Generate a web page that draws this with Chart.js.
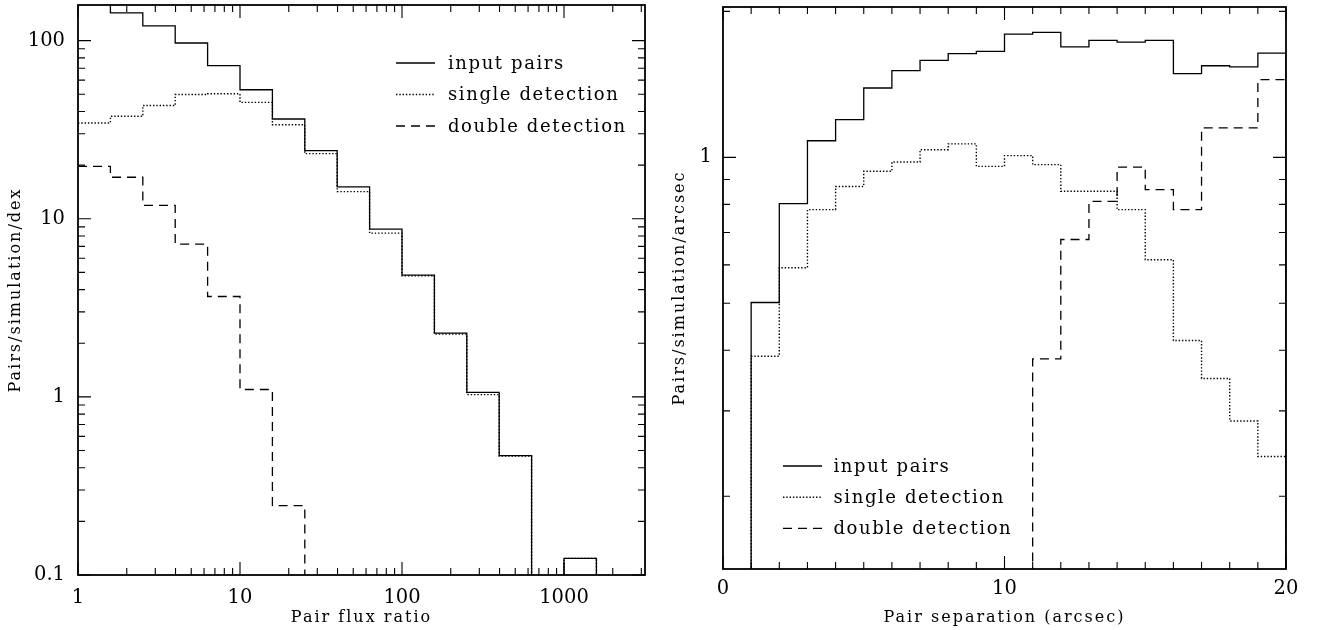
<!DOCTYPE html>
<html><head><meta charset="utf-8">
<script src="https://cdn.jsdelivr.net/npm/chart.js@4.4.1/dist/chart.umd.min.js"></script>
<style>
html,body{margin:0;padding:0;background:#fff;}
#wrap{position:relative;width:1319px;height:630px;background:#fff;}
.box{position:absolute;top:0;height:630px;}
#b1{left:0;width:660px;}
#b2{left:660px;width:659px;}
</style></head><body>
<div id="wrap">
  <div class="box" id="b1"><canvas id="c1"></canvas></div>
  <div class="box" id="b2"><canvas id="c2"></canvas></div>
</div>
<script>
// ---------- data ----------
const seriesLabels = ['input pairs', 'single detection', 'double detection'];

// left panel: bins of 0.2 dex in pair flux ratio
const fluxEdges  = [1, 1.585, 2.512, 3.981, 6.310, 10, 15.85, 25.12, 39.81, 63.10, 100, 158.5, 251.2, 398.1, 631.0, 1000, 1585];
const fluxInput  = [170, 143, 121, 97, 72.4, 53, 36.3, 24.1, 15.1, 8.75, 4.83, 2.28, 1.06, 0.468, 0, 0.124];
const fluxSingle = [34.5, 37.6, 43.2, 49.8, 50.3, 45.0, 33.7, 23.2, 14.2, 8.3, 4.78, 2.25, 1.03, 0.465, 0, 0.124];
const fluxDouble = [19.7, 17.1, 11.9, 7.2, 3.66, 1.10, 0.245, 0, 0, 0, 0, 0, 0, 0, 0, 0];

// right panel: bins of 1 arcsec in pair separation
const sepEdges  = [0, 1, 2, 3, 4, 5, 6, 7, 8, 9, 10, 11, 12, 13, 14, 15, 16, 17, 18, 19, 20];
const sepInput  = [0, 0.502, 0.803, 1.082, 1.196, 1.39, 1.51, 1.585, 1.636, 1.654, 1.796, 1.81, 1.689, 1.743, 1.729, 1.743, 1.488, 1.545, 1.536, 1.641];
const sepSingle = [0, 0.389, 0.592, 0.78, 0.871, 0.936, 0.978, 1.037, 1.066, 0.958, 1.008, 0.966, 0.851, 0.851, 0.78, 0.615, 0.419, 0.35, 0.286, 0.2416];
const sepDouble = [0, 0, 0, 0, 0, 0, 0, 0, 0, 0, 0, 0.384, 0.677, 0.811, 0.955, 0.858, 0.78, 1.15, 1.15, 1.446];

// axes
const fluxRange = [1, 3162.3];
const countRange = [0.1, 158.5];
const sepRange = [0, 20];
const sepCountRange = [0.1416, 2.042];
const fluxTickLabels = ['1', '10', '100', '1000'];
const countTickLabels = ['0.1', '1', '10', '100'];
const sepTickLabels = ['0', '10', '20'];
const sepCountTickLabels = ['1'];

// ---------- helpers ----------
const FONT = '"DejaVu Serif", "Liberation Serif", serif';
const FLOOR = 1e-4;

function logTicks(range) {
  const out = [];
  for (let e = -3; e <= 5; e++) {
    for (let m = 1; m <= 9; m++) {
      const v = +(m * Math.pow(10, e)).toPrecision(6);
      if (v >= range[0] * 0.9999 && v <= range[1] * 1.0001) out.push(v);
    }
  }
  return out;
}
function linTicks(range) {
  const out = [];
  for (let v = range[0]; v <= range[1]; v++) out.push(v);
  return out;
}

function hist(edges, vals, label, dash, width) {
  const pts = vals.map((v, i) => ({x: edges[i], y: v > 0 ? v : FLOOR}));
  pts.push({x: edges[vals.length], y: FLOOR});
  return {
    label, data: pts, stepped: 'before',
    borderColor: '#000', borderWidth: width, borderDash: dash,
    borderCapStyle: 'butt', pointRadius: 0, fill: false, tension: 0
  };
}

function axis(type, range, labels, tickVals, title, labelPad, titlePad, isX, size) {
  return {
    type, min: range[0], max: range[1],
    grid: {display: false, drawTicks: false},
    border: {display: false},
    ticks: {
      color: '#000', font: {family: FONT, size: 19.5}, padding: labelPad,
      autoSkip: false, maxRotation: 0, minRotation: 0,
      callback: (v) => labels.includes(String(v)) ? String(v) : ''
    },
    title: {display: true, text: title, color: '#000', font: {family: FONT, size: 16}, padding: titlePad},
    afterBuildTicks: (s) => { s.ticks = tickVals.map(v => ({value: v})); },
    afterFit: (s) => {
      if (isX) s.height = size; else s.width = size;
      s.paddingTop = 0; s.paddingBottom = 0; s.paddingLeft = 0; s.paddingRight = 0;
    }
  };
}

// ---------- plugins ----------
const titleSpacing = {
  id: 'titleSpacing',
  beforeDraw(chart) {
    Object.values(chart.scales).forEach(s => {
      if (s._lsPatched) return;
      const orig = s.drawTitle.bind(s);
      s.drawTitle = function () {
        const c = this.ctx; c.save(); c.letterSpacing = '2px'; orig(); c.restore();
      };
      s._lsPatched = true;
    });
  }
};

const frameTicks = {
  id: 'frameTicks',
  afterDatasetsDraw(chart) {
    const {ctx, chartArea: a} = chart;
    const xs = chart.scales.x, ys = chart.scales.y;
    ctx.save();
    ctx.strokeStyle = '#000';
    ctx.setLineDash([]);
    ctx.lineWidth = 1.1;
    ctx.beginPath();
    xs.ticks.forEach(t => {
      const p = xs.getPixelForValue(t.value);
      const L = t.label ? 13 : 7;
      ctx.moveTo(p, a.bottom); ctx.lineTo(p, a.bottom - L);
      ctx.moveTo(p, a.top); ctx.lineTo(p, a.top + L);
    });
    ys.ticks.forEach(t => {
      const p = ys.getPixelForValue(t.value);
      const L = t.label ? 13 : 7;
      ctx.moveTo(a.left, p); ctx.lineTo(a.left + L, p);
      ctx.moveTo(a.right, p); ctx.lineTo(a.right - L, p);
    });
    ctx.stroke();
    ctx.lineWidth = 1.8;
    ctx.strokeRect(a.left, a.top, a.right - a.left, a.bottom - a.top);
    ctx.restore();
  }
};

const histLegend = {
  id: 'histLegend',
  afterDraw(chart, args, o) {
    const ctx = chart.ctx;
    ctx.save();
    ctx.font = o.fontSize + 'px ' + FONT;
    ctx.letterSpacing = '1.6px';
    ctx.fillStyle = '#000';
    ctx.strokeStyle = '#000';
    ctx.textBaseline = 'middle';
    ctx.textAlign = 'left';
    chart.data.datasets.forEach((ds, i) => {
      const y = o.y + i * o.rowH;
      ctx.lineWidth = ds.borderWidth;
      ctx.setLineDash(ds.borderDash || []);
      ctx.beginPath();
      ctx.moveTo(o.x, y); ctx.lineTo(o.x + o.lineLen, y);
      ctx.stroke();
      ctx.setLineDash([]);
      ctx.fillText(ds.label, o.x + o.lineLen + o.gap, y + 1);
    });
    ctx.restore();
  }
};

const DOT = [1.4, 1.9];
const DASH = [9, 6];

function baseOptions(padding, legendOpts) {
  return {
    responsive: true, maintainAspectRatio: false, animation: false, events: [],
    layout: {padding},
    plugins: {legend: {display: false}, tooltip: {enabled: false}, histLegend: legendOpts},
  };
}

// ---------- left chart ----------
const opt1 = baseOptions({top: 5, right: 15, bottom: 0, left: 0},
  {x: 396, y: 63, rowH: 31.5, lineLen: 39, gap: 13, fontSize: 18});
opt1.scales = {
  x: axis('logarithmic', fluxRange, fluxTickLabels, logTicks(fluxRange), 'Pair flux ratio', 11, {top: 0, bottom: 3}, true, 55),
  y: axis('logarithmic', countRange, countTickLabels, logTicks(countRange), 'Pairs/simulation/dex', 13, {top: 6, bottom: 0}, false, 78)
};
new Chart(document.getElementById('c1'), {
  type: 'line',
  data: {datasets: [
    hist(fluxEdges, fluxInput, seriesLabels[0], [], 1.3),
    hist(fluxEdges, fluxSingle, seriesLabels[1], DOT, 1.4),
    hist(fluxEdges, fluxDouble, seriesLabels[2], DASH, 1.3)
  ]},
  options: opt1,
  plugins: [titleSpacing, frameTicks, histLegend]
});

// ---------- right chart ----------
const opt2 = baseOptions({top: 7, right: 33, bottom: 0, left: 0},
  {x: 123, y: 466, rowH: 31.2, lineLen: 39, gap: 11.5, fontSize: 18});
opt2.scales = {
  x: axis('linear', sepRange, sepTickLabels, linTicks(sepRange), 'Pair separation (arcsec)', 8, {top: 0, bottom: 3}, true, 61),
  y: axis('logarithmic', sepCountRange, sepCountTickLabels, logTicks(sepCountRange), 'Pairs/simulation/arcsec', 11, {top: 10, bottom: 0}, false, 63)
};
new Chart(document.getElementById('c2'), {
  type: 'line',
  data: {datasets: [
    hist(sepEdges, sepInput, seriesLabels[0], [], 1.3),
    hist(sepEdges, sepSingle, seriesLabels[1], DOT, 1.4),
    hist(sepEdges, sepDouble, seriesLabels[2], DASH, 1.3)
  ]},
  options: opt2,
  plugins: [titleSpacing, frameTicks, histLegend]
});
</script>
</body></html>
